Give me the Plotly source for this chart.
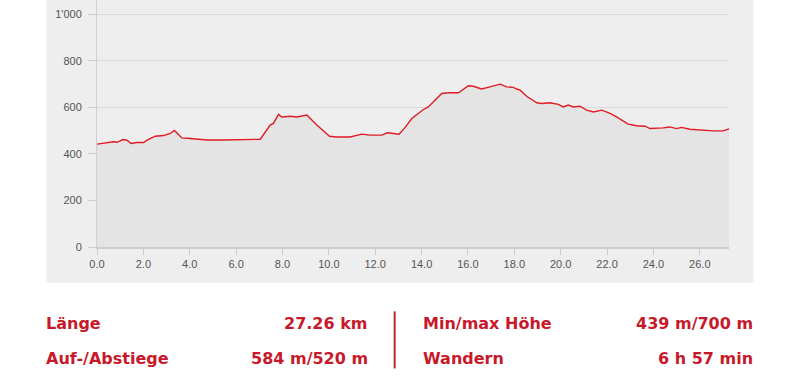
import plotly.graph_objects as go

# Elevation profile (distance km, elevation m)
dist_km = [0.0, 0.57, 0.72, 0.86, 1.12, 1.29, 1.47, 1.72, 2.01, 2.16, 2.51, 2.87, 3.16, 3.34,
           3.52, 3.66, 4.02, 4.74, 5.46, 6.4, 6.9, 7.04, 7.47, 7.61, 7.83, 7.97, 8.33, 8.62,
           9.05, 9.19, 9.48, 10.03, 10.34, 10.92, 11.42, 11.78, 12.28, 12.53, 12.72, 13.03,
           13.29, 13.58, 14.08, 14.29, 14.87, 15.16, 15.59, 16.02, 16.23, 16.59, 16.95, 17.39,
           17.67, 17.96, 18.10, 18.25, 18.53, 18.97, 19.18, 19.54, 19.9, 20.11, 20.33, 20.54,
           20.83, 21.12, 21.41, 21.77, 22.13, 22.41, 22.91, 23.28, 23.64, 23.85, 24.42, 24.71,
           25.0, 25.21, 25.57, 26.0, 26.58, 27.0, 27.26]
elev_m = [442, 449, 452, 450, 462, 459, 445, 449, 449, 459, 476, 479, 488, 501,
          485, 469, 466, 460, 460, 461, 463, 463, 524, 531, 570, 559, 562, 559,
          567, 552, 524, 476, 473, 473, 485, 481, 481, 491, 488, 485,
          514, 552, 591, 602, 660, 663, 663, 693, 691, 679, 688, 700,
          688, 686, 679, 674, 648, 620, 617, 620, 613, 602, 610, 602,
          605, 588, 580, 588, 574, 559, 528, 521, 519, 509, 512, 516,
          509, 514, 506, 502, 499, 499, 507]

y_tickvals = [0, 200, 400, 600, 800, 1000]
y_ticktext = ["0", "200", "400", "600", "800", "1'000"]
x_tickvals = [0, 2, 4, 6, 8, 10, 12, 14, 16, 18, 20, 22, 24, 26]

stats_left = [("Länge", "27.26 km"), ("Auf-/Abstiege", "584 m/520 m")]
stats_right = [("Min/max Höhe", "439 m/700 m"), ("Wandern", "6 h 57 min")]

RED = "#c8192b"
LINE_RED = "#e01b24"

fig = go.Figure()
fig.add_trace(go.Scatter(
    x=dist_km, y=elev_m, mode="lines",
    line=dict(color=LINE_RED, width=1.4),
    fill="tozeroy", fillcolor="#e4e4e4",
    hoverinfo="skip", showlegend=False,
))

W, H = 800, 378
L, R = 96.7, 729.0
T, B = 0.0, 246.7
y_top = 1000 * (B - T) / (246.7 - 14.3)

def px_x(px):
    return (px - L) / (R - L)

def px_y(py):
    return (B - py) / (B - T)

fig.update_layout(
    width=W, height=H,
    margin=dict(l=L, r=W - R, t=T, b=H - B, pad=0),
    paper_bgcolor="white",
    plot_bgcolor="rgba(0,0,0,0)",
    font=dict(family="Liberation Sans, Arial, sans-serif", size=11, color="#555555"),
    xaxis=dict(
        range=[0, 27.26], tickvals=x_tickvals, tickformat=".1f",
        showgrid=False, zeroline=False,
        showline=True, linecolor="#cccccc", linewidth=2,
        ticks="outside", ticklen=6, tickcolor="#cccccc", tickwidth=1,
        tickfont=dict(size=11, color="#555555"),
    ),
    yaxis=dict(
        range=[0, y_top], tickvals=y_tickvals, ticktext=y_ticktext,
        showgrid=True, gridcolor="#d9d9d9", gridwidth=1,
        zeroline=False,
        showline=True, linecolor="#d0d0d0", linewidth=1,
        ticks="outside", ticklen=8, tickcolor="#cccccc", tickwidth=1,
        ticklabelstandoff=4,
        tickfont=dict(size=11, color="#555555"),
    ),
)

# gray panel behind chart
fig.add_shape(type="rect", xref="paper", yref="paper",
              x0=px_x(46), x1=px_x(753.5), y0=px_y(282.5), y1=px_y(-2),
              fillcolor="#eeeeee", line=dict(width=0), layer="below")

# stats text
font_stats = dict(family="DejaVu Sans, Verdana, sans-serif", size=16, color=RED)
rows_y = [323, 358]
for (lab, val), yy in zip(stats_left, rows_y):
    fig.add_annotation(x=px_x(44), y=px_y(yy), xref="paper", yref="paper",
                       text="<b>%s</b>" % lab, showarrow=False, xanchor="left",
                       yanchor="middle", font=font_stats)
    fig.add_annotation(x=px_x(369.5), y=px_y(yy), xref="paper", yref="paper",
                       text="<b>%s</b>" % val, showarrow=False, xanchor="right",
                       yanchor="middle", font=font_stats)
for (lab, val), yy in zip(stats_right, rows_y):
    fig.add_annotation(x=px_x(420.5), y=px_y(yy), xref="paper", yref="paper",
                       text="<b>%s</b>" % lab, showarrow=False, xanchor="left",
                       yanchor="middle", font=font_stats)
    fig.add_annotation(x=px_x(755.5), y=px_y(yy), xref="paper", yref="paper",
                       text="<b>%s</b>" % val, showarrow=False, xanchor="right",
                       yanchor="middle", font=font_stats)

fig.add_shape(type="line", xref="paper", yref="paper",
              x0=px_x(394.5), x1=px_x(394.5), y0=px_y(311), y1=px_y(368),
              line=dict(color="#c0262e", width=2))

fig.write_html("out.html")
